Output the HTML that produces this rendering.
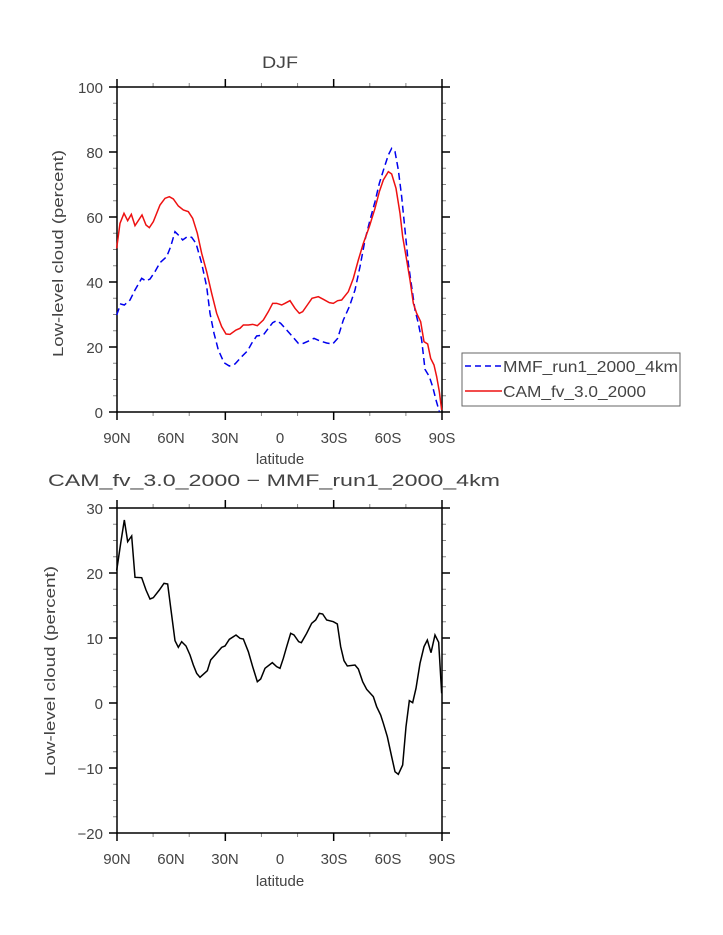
<!DOCTYPE html>
<html><head><meta charset="utf-8"><style>
html,body{margin:0;padding:0;background:#fff;}
svg{display:block;font-family:"Liberation Sans",sans-serif;}
</style></head><body>
<svg id="s" width="723" height="935" viewBox="0 0 723 935" xmlns="http://www.w3.org/2000/svg">
<rect width="723" height="935" fill="#fff"/>
<g id="ticks"></g>
<rect x="117" y="87" width="325" height="325" fill="none" stroke="#000" stroke-width="1.5"/>
<rect x="117" y="508" width="325" height="325" fill="none" stroke="#000" stroke-width="1.5"/>
<g transform="translate(110,80) scale(0.3333333)">
<polyline fill="none" stroke="#0000ee" stroke-width="1.5" vector-effect="non-scaling-stroke" stroke-dasharray="7,4" points="20,705 32,672 43,675 60,660 75,630 95,595 108,603 120,597 135,575 150,548 170,530 182,500 195,455 205,465 218,480 232,470 245,472 258,490 275,550 290,620 300,700 312,760 325,810 342,848 358,858 375,852 395,830 413,812 425,790 440,768 460,765 475,745 488,728 500,722 512,730 530,750 548,770 565,790 580,790 598,782 612,775 630,783 650,789 668,792 683,775 700,720 718,680 735,630 750,560 765,480 780,420 795,365 808,310 822,265 835,225 845,205 855,215 865,270 875,350 885,450 895,550 905,620 915,690 925,730 935,780 945,868 958,890 968,920 978,960 988,995"/>
<polyline fill="none" stroke="#ee1111" stroke-width="1.5" vector-effect="non-scaling-stroke" points="20,505 30,430 42,400 53,422 64,403 75,437 96,405 108,435 118,443 130,425 150,375 165,355 178,350 190,357 205,378 220,390 235,395 248,415 262,460 275,520 290,575 305,640 320,700 335,740 348,762 360,763 378,750 390,745 400,735 415,735 428,733 442,737 460,720 475,695 488,670 500,670 515,675 525,670 540,662 555,685 568,700 578,695 592,675 606,655 625,650 640,658 658,668 670,670 683,662 695,660 715,635 730,595 745,540 760,490 778,440 795,385 808,335 820,300 835,275 845,282 858,325 870,400 878,470 890,540 900,600 910,670 920,700 932,725 942,785 953,792 962,835 972,855 980,890 988,935 995,990"/>
</g>
<g transform="translate(110,500) scale(0.3333333)">
<polyline fill="none" stroke="#000" stroke-width="1.5" vector-effect="non-scaling-stroke" points="20,212 32,130 43,60 53,125 65,108 75,232 95,233 108,270 120,297 130,293 148,270 162,250 173,252 183,330 195,422 205,442 215,425 228,438 240,465 250,495 260,520 270,532 292,512 302,480 318,462 335,442 345,438 358,418 378,405 390,415 400,417 415,455 428,500 442,545 452,537 465,505 487,488 500,500 510,505 520,475 530,440 542,400 552,405 566,425 574,428 590,400 605,370 617,360 628,340 638,342 650,360 670,365 682,372 692,440 702,482 712,498 735,495 745,507 758,545 770,568 790,590 800,620 812,645 820,670 832,710 845,770 855,815 865,823 878,795 888,680 898,602 908,608 918,565 930,490 942,440 952,420 963,458 975,405 986,427 995,580"/>
</g>
<g fill="#444" font-size="15">
<text x="262" y="68" font-size="17" textLength="36" lengthAdjust="spacingAndGlyphs">DJF</text>
<g text-anchor="end">
<text x="103" y="93">100</text><text x="103" y="158">80</text><text x="103" y="223">60</text><text x="103" y="288">40</text><text x="103" y="353">20</text><text x="103" y="418">0</text>
<text x="103" y="514">30</text><text x="103" y="579">20</text><text x="103" y="644">10</text><text x="103" y="709">0</text><text x="103" y="774">−10</text><text x="103" y="839">−20</text>
</g>
<g text-anchor="middle">
<text x="117" y="443">90N</text><text x="171" y="443">60N</text><text x="225" y="443">30N</text><text x="280" y="443">0</text><text x="334" y="443">30S</text><text x="388" y="443">60S</text><text x="442" y="443">90S</text>
<text x="280" y="464">latitude</text>
<text x="117" y="864">90N</text><text x="171" y="864">60N</text><text x="225" y="864">30N</text><text x="280" y="864">0</text><text x="334" y="864">30S</text><text x="388" y="864">60S</text><text x="442" y="864">90S</text>
<text x="280" y="886">latitude</text>
</g>
<text x="48" y="486" font-size="17" textLength="452" lengthAdjust="spacingAndGlyphs">CAM_fv_3.0_2000 − MMF_run1_2000_4km</text>
<text transform="translate(63,357) rotate(-90)" textLength="207" lengthAdjust="spacingAndGlyphs">Low-level cloud (percent)</text>
<text transform="translate(55,776) rotate(-90)" textLength="210" lengthAdjust="spacingAndGlyphs">Low-level cloud (percent)</text>
<rect x="462" y="353" width="218" height="53" fill="#fff" stroke="#666" stroke-width="1"/>
<line x1="465" y1="366" x2="502" y2="366" stroke="#0000ee" stroke-width="1.5" stroke-dasharray="6,4"/>
<line x1="465" y1="391" x2="502" y2="391" stroke="#ee1111" stroke-width="1.5"/>
<text x="503" y="372" font-size="16" textLength="175" lengthAdjust="spacingAndGlyphs">MMF_run1_2000_4km</text>
<text x="503" y="397" font-size="16" textLength="143" lengthAdjust="spacingAndGlyphs">CAM_fv_3.0_2000</text>
</g>
</svg>
<script>
(function(){
var g=document.getElementById('ticks'),d='',m='';
function box(top){
 var L=117,R=442,T=top,B=top+325;
 for(var i=0;i<=9;i++){var x=L+i*325/9,len=(i%3==0)?8:4;
  var p='M'+x+','+B+'v'+len+'M'+x+','+T+'v-'+len;
  if(i%3==0)d+=p;else m+=p;}
 for(var j=0;j<=20;j++){var y=T+j*325/20,len=(j%4==0)?8:4;
  var p='M'+L+','+y+'h-'+len+'M'+R+','+y+'h'+len;
  if(j%4==0)d+=p;else m+=p;}
}
box(87);box(508);
g.innerHTML='<path d="'+d+'" stroke="#000" stroke-width="1.5" fill="none"/><path d="'+m+'" stroke="#888" stroke-width="1" fill="none"/>';
})();
</script>
</body></html>
